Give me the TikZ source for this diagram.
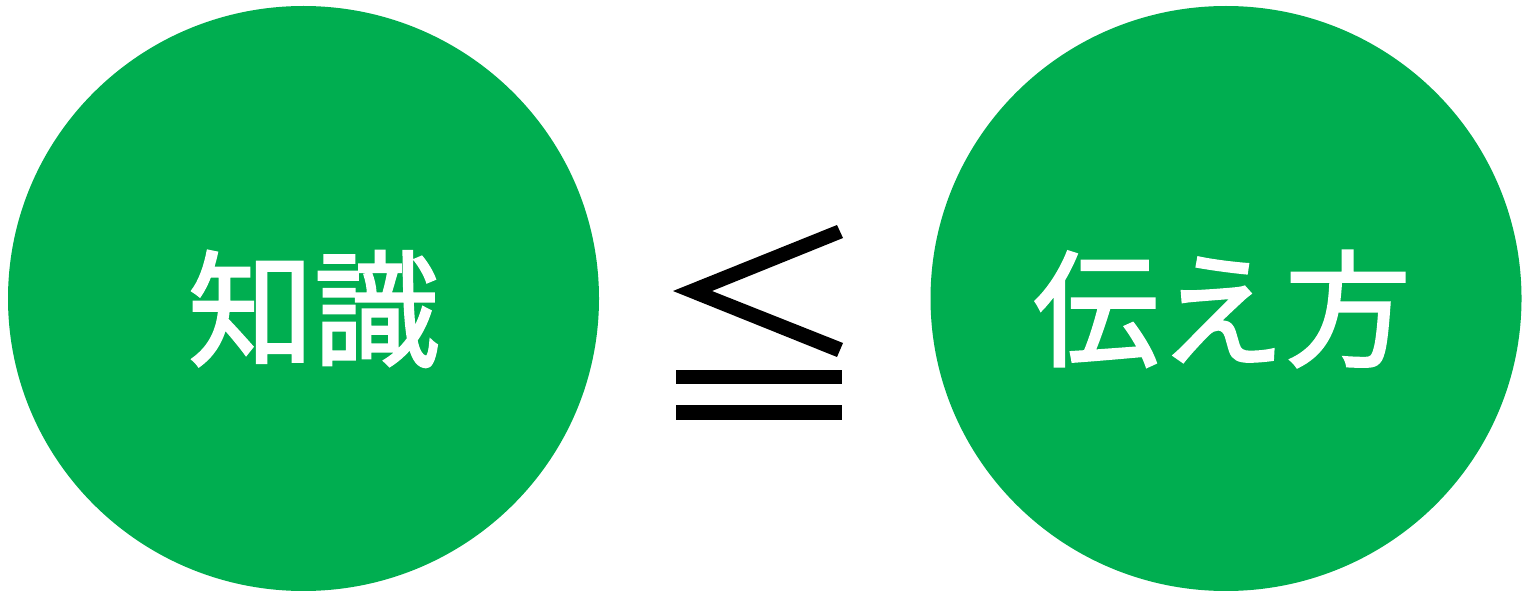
\documentclass[tikz,border=0pt]{standalone}
\usepackage{fontspec}
\newfontfamily\cjk[RawFeature={embolden=1.8}]{Noto Sans CJK JP}
\definecolor{circgreen}{HTML}{00AE50}
\begin{document}
\begin{tikzpicture}[x=1pt,y=-1pt,
  label/.style={text=white,font=\cjk\fontsize{126}{126}\selectfont,inner sep=0pt},
  symb/.style={fill=black,draw=none}]
\useasboundingbox (0,0) rectangle (1522,591);
\fill[circgreen] (303.5,298.5) ellipse [x radius=295.5, y radius=292.5];
\fill[circgreen] (1226,298.5) ellipse [x radius=295.5, y radius=292.5];
\node[label] (know) at (314,309) {知識};
\node[label] (tell) at (1222,309) {伝え方};
\fill[symb] (673,291) -- (837,225) -- (843,238) -- (712,291) -- (843,343) -- (837,357) -- cycle;
\fill[symb] (676,370) rectangle (842,384);
\fill[symb] (676,405) rectangle (842,420);
\end{tikzpicture}
\end{document}
